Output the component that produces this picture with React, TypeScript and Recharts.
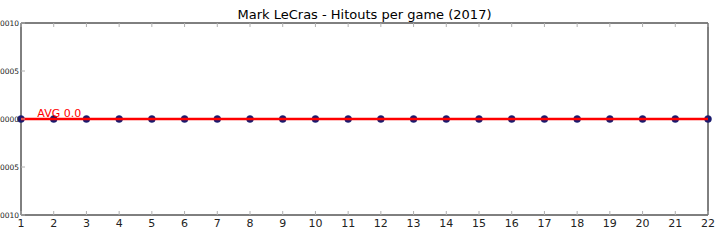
import React from 'react';
import { LineChart, Line, XAxis, YAxis, ReferenceDot, ReferenceArea } from 'recharts';

const rounds = [1, 2, 3, 4, 5, 6, 7, 8, 9, 10, 11, 12, 13, 14, 15, 16, 17, 18, 19, 20, 21, 22];
const hitouts = [0, 0, 0, 0, 0, 0, 0, 0, 0, 0, 0, 0, 0, 0, 0, 0, 0, 0, 0, 0, 0, 0];
const yTicks = [-0.001, -0.0005, 0, 0.0005, 0.001];
const yTickLabels = ['\u22120.0010', '\u22120.0005', '0.0000', '0.0005', '0.0010'];

const avg = hitouts.reduce((a, b) => a + b, 0) / hitouts.length;
const data = rounds.map((r, i) => ({ round: r, hitouts: hitouts[i], avg }));

const FONT = '"DejaVu Sans", sans-serif';
const TICK = '#b0b0b0';

const BottomTick = ({ x, y, payload }: any) => (
  <g>
    <line x1={x} y1={y} x2={x} y2={y - 4} stroke={TICK} />
    <text x={x} y={y + 12} textAnchor="middle" fontSize={11} fontFamily={FONT} fill="#222">
      {payload.value}
    </text>
  </g>
);

const TopTick = ({ x, y }: any) => <line x1={x} y1={y} x2={x} y2={y + 4} stroke={TICK} />;

const LeftTick = ({ x, y, payload }: any) => (
  <g>
    <line x1={x} y1={y} x2={x + 4} y2={y} stroke={TICK} />
    <text x={x - 2} y={y} dy={2.5} textAnchor="end" fontSize={7.5} fontFamily={FONT} fill="#222">
      {yTickLabels[yTicks.indexOf(payload.value)]}
    </text>
  </g>
);

const RightTick = ({ x, y }: any) => <line x1={x} y1={y} x2={x - 4} y2={y} stroke={TICK} />;

const AvgLabel = ({ viewBox }: any) => (
  <text x={viewBox.x} y={viewBox.y - 2} fontSize={11} fontFamily={FONT} fill="#ff0000">
    {`AVG ${avg.toFixed(1)}`}
  </text>
);

export default function App() {
  return (
    <div style={{ position: 'absolute', left: 0, top: 0, width: 720, height: 240, background: '#fff' }}>
      <div
        style={{
          position: 'absolute',
          left: 21,
          width: 687,
          top: 7,
          textAlign: 'center',
          fontFamily: FONT,
          fontSize: 13,
          color: '#000',
        }}
      >
        Mark LeCras - Hitouts per game (2017)
      </div>
      <LineChart width={720} height={240} data={data} margin={{ top: 0, right: 0, bottom: 0, left: 0 }} style={{ overflow: 'visible' }}>
        <XAxis
          dataKey="round"
          type="number"
          domain={[1, 22]}
          ticks={rounds}
          interval={0}
          height={25}
          tickSize={0}
          tickMargin={0}
          tickLine={false}
          axisLine={false}
          tick={<BottomTick />}
        />
        <XAxis
          xAxisId="top"
          orientation="top"
          dataKey="round"
          type="number"
          domain={[1, 22]}
          ticks={rounds}
          interval={0}
          height={23}
          tickSize={0}
          tickMargin={0}
          tickLine={false}
          axisLine={false}
          tick={<TopTick />}
        />
        <YAxis
          type="number"
          domain={[-0.001, 0.001]}
          ticks={yTicks}
          interval={0}
          width={21}
          tickSize={0}
          tickMargin={0}
          tickLine={false}
          axisLine={false}
          tick={<LeftTick />}
        />
        <YAxis
          yAxisId="right"
          orientation="right"
          type="number"
          domain={[-0.001, 0.001]}
          ticks={yTicks}
          interval={0}
          width={12}
          tickSize={0}
          tickMargin={0}
          tickLine={false}
          axisLine={false}
          tick={<RightTick />}
        />
        <ReferenceArea x1={1} x2={22} y1={-0.001} y2={0.001} fill="none" stroke="#000" strokeWidth={1} ifOverflow="visible" />
        <Line
          dataKey="hitouts"
          stroke="#0000ff"
          strokeWidth={1}
          dot={{ r: 3.5, fill: '#1a1a6e', stroke: '#1a1a6e', strokeWidth: 0.5 }}
          activeDot={false}
          isAnimationActive={false}
        />
        <Line
          dataKey="avg"
          stroke="#ff0000"
          strokeWidth={2.5}
          dot={false}
          activeDot={false}
          isAnimationActive={false}
          {...({ zIndex: 900 } as any)}
        />
        <ReferenceDot x={1.5} y={avg} r={0} fill="none" stroke="none" label={<AvgLabel />} ifOverflow="visible" />
      </LineChart>
    </div>
  );
}
